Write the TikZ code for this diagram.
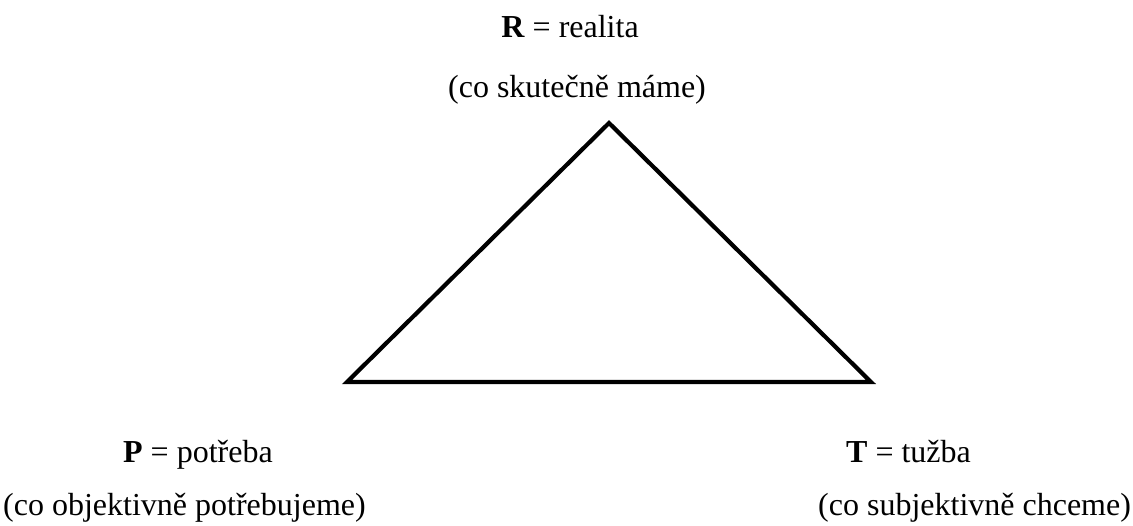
\documentclass[tikz,border=0pt]{standalone}
\usepackage{fontspec}
\setmainfont{Liberation Serif}
\begin{document}
\begin{tikzpicture}[x=1pt,y=-1pt,
  lbl/.style={inner sep=0pt,font=\fontsize{32}{38}\selectfont},
  tri/.style={line width=4.2pt,line join=miter}]
\useasboundingbox (0,0) rectangle (1133,525);
\coordinate (A) at (609,123);
\coordinate (B) at (347,382);
\coordinate (C) at (871,382);
\draw[tri] (A) -- (B) -- (C) -- cycle;
\node[lbl,anchor=base] (r1) at (570,37) {\textbf{R} = realita};
\node[lbl,anchor=base] (r2) at (577,97) {(co skutečně máme)};
\node[lbl,anchor=base west] (p1) at (123,462) {\textbf{P} = potřeba};
\node[lbl,anchor=base west] (p2) at (3,515) {(co objektivně potřebujeme)};
\node[lbl,anchor=base west] (t1) at (846,462) {\textbf{T} = tužba};
\node[lbl,anchor=base west] (t2) at (818,515) {(co subjektivně chceme)};
\end{tikzpicture}
\end{document}
